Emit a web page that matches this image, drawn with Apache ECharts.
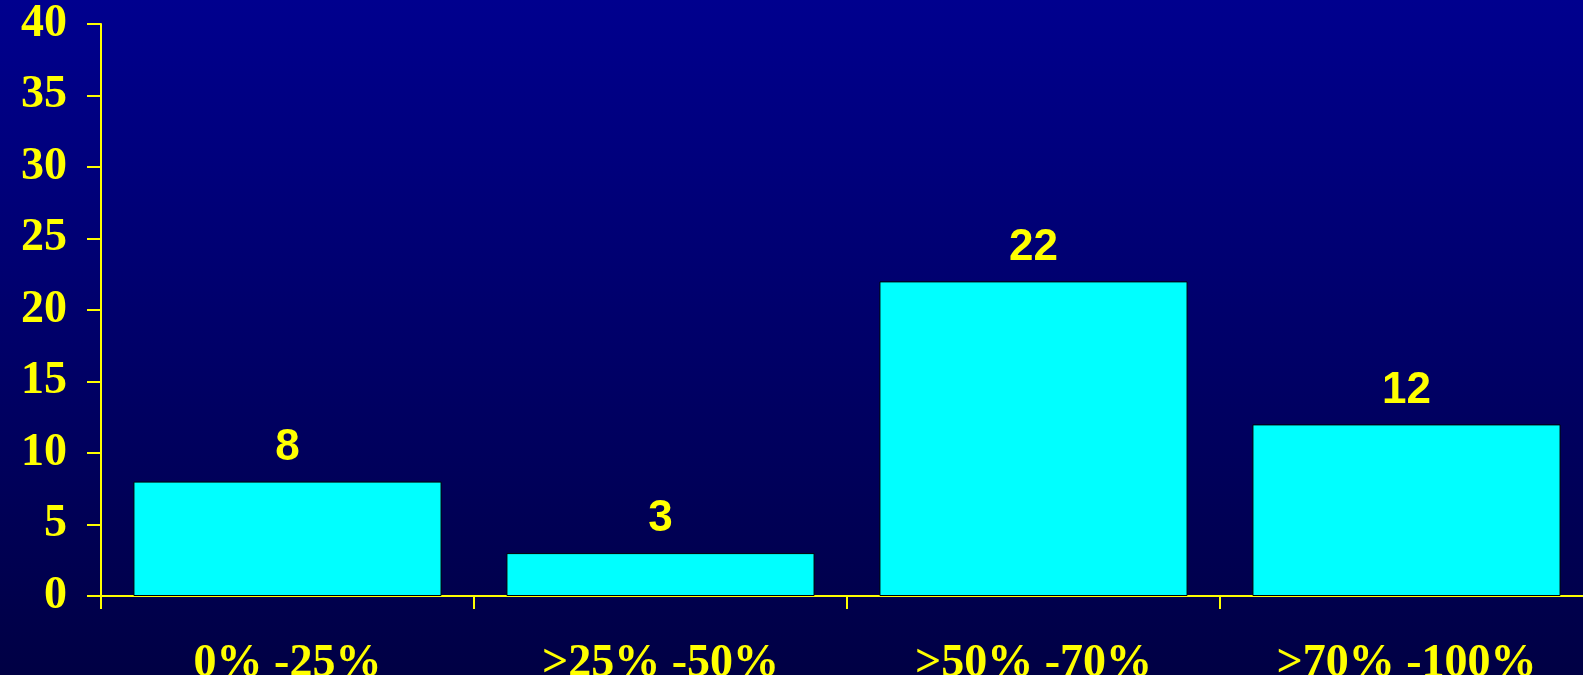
<!DOCTYPE html>
<html>
<head>
<meta charset="utf-8">
<style>
  html, body { margin: 0; padding: 0; }
  #chart { width: 1583px; height: 675px; }
</style>
<script src="https://cdn.jsdelivr.net/npm/echarts@6/dist/echarts.min.js"></script>
</head>
<body>
<div id="chart"></div>
<script>
// Ranges of the share and how many cases fall into each
const categories = ['0% -25%', '>25% -50%', '>50% -70%', '>70% -100%'];
const counts = [8, 3, 22, 12];
const yTicks = { min: 0, max: 40, step: 5 };

const yellow = '#FFFF00';
const chart = echarts.init(document.getElementById('chart'));

chart.setOption({
  backgroundColor: new echarts.graphic.LinearGradient(0, 0, 0, 1, [
    { offset: 0, color: '#00008E' },
    { offset: 1, color: '#000044' }
  ]),
  animation: false,
  grid: {
    left: 101, right: -10, top: 24, bottom: 79,
    containLabel: false,
    outerBoundsMode: 'none'
  },
  xAxis: {
    type: 'category',
    data: categories,
    axisLine: { show: true, lineStyle: { color: yellow, width: 2 } },
    axisTick: { show: true, length: 13, alignWithLabel: false, lineStyle: { color: yellow, width: 2 } },
    axisLabel: {
      color: yellow,
      fontFamily: '"Liberation Serif", "Times New Roman", serif',
      fontWeight: 'bold',
      fontSize: 46,
      margin: 45,
      interval: 0
    },
    splitLine: { show: false }
  },
  yAxis: {
    type: 'value',
    min: yTicks.min,
    max: yTicks.max,
    interval: yTicks.step,
    axisLine: { show: true, lineStyle: { color: yellow, width: 2 } },
    axisTick: { show: true, length: 14, lineStyle: { color: yellow, width: 2 } },
    axisLabel: {
      color: yellow,
      fontFamily: '"Liberation Serif", "Times New Roman", serif',
      fontWeight: 'bold',
      fontSize: 46,
      margin: 34
    },
    splitLine: { show: false }
  },
  series: [{
    type: 'bar',
    data: counts,
    barWidth: '82.6%',
    itemStyle: { color: '#00FFFF', borderColor: '#000000', borderWidth: 1 },
    label: {
      show: true,
      position: 'top',
      distance: 12,
      color: yellow,
      fontFamily: '"Liberation Sans", Arial, sans-serif',
      fontWeight: 'bold',
      fontSize: 44
    }
  }]
});
</script>
</body>
</html>
